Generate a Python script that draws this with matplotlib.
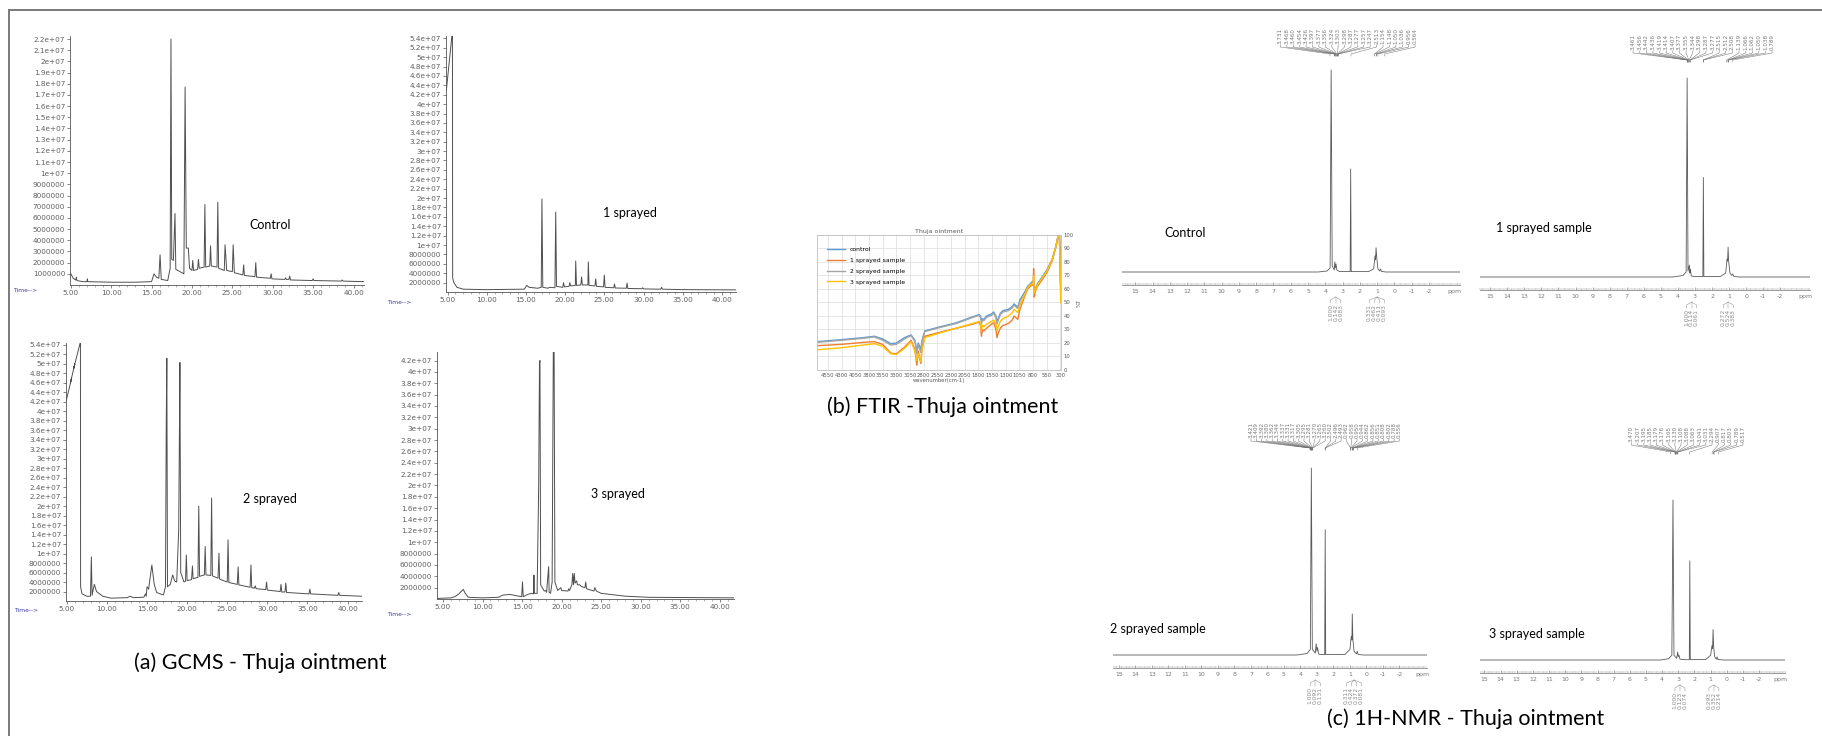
import numpy as np
import matplotlib
matplotlib.use("Agg")
import matplotlib.pyplot as plt
from matplotlib.lines import Line2D
from matplotlib.ticker import MultipleLocator, FuncFormatter
from matplotlib.transforms import blended_transform_factory

W, H = 1822, 736
CAPTION_FONT = ["Lato", "DejaVu Sans"]

# ---------------- GC-MS chromatograms: (retention time [min], abundance [x1e6]) ----------------
gc_control = [(5.0, 1.0), (5.3, 0.6), (5.6, 0.45), (5.7, 0.7), (5.75, 0.4), (6.5, 0.3), (7.0, 0.3),
              (7.05, 0.55), (7.1, 0.3), (10, 0.25), (13, 0.25), (15.0, 0.3), (15.3, 1.0), (15.6, 0.7),
              (15.9, 0.6), (16.05, 2.7), (16.2, 0.5), (17.0, 0.4), (17.3, 1.5), (17.4, 22.0), (17.5, 2.3),
              (17.7, 2.2), (17.9, 6.4), (18.0, 1.4), (18.5, 1.2), (19.0, 1.0), (19.15, 17.7), (19.3, 3.3),
              (19.55, 3.3), (19.7, 1.5), (20.0, 1.3), (20.1, 2.2), (20.2, 1.3), (20.7, 1.4), (20.8, 2.3),
              (20.9, 1.5), (21.5, 1.6), (21.6, 7.2), (21.7, 1.6), (22.2, 1.7), (22.3, 3.5), (22.4, 1.7),
              (23.1, 1.6), (23.2, 7.4), (23.3, 1.5), (24.0, 1.3), (24.1, 3.6), (24.3, 1.3), (25.0, 1.2),
              (25.1, 3.6), (25.25, 1.1), (26.3, 0.9), (26.4, 1.8), (26.5, 0.85), (27.8, 0.75), (27.9, 2.0),
              (28.0, 0.7), (29.7, 0.6), (29.8, 1.0), (29.9, 0.55), (31.5, 0.5), (31.6, 0.65), (31.7, 0.5),
              (32.0, 0.5), (32.1, 0.8), (32.2, 0.45), (34.9, 0.4), (35.0, 0.55), (35.1, 0.4), (38.5, 0.35),
              (38.6, 0.45), (38.7, 0.35), (41.3, 0.3)]
gc_spray1 = [(4.85, 43), (5.55, 54.5), (5.62, 54.5), (5.65, 3.0), (5.8, 2.0), (6.2, 1.0), (7.0, 0.6),
             (10, 0.5), (14.8, 0.6), (15.1, 1.4), (15.4, 1.0), (16.5, 0.8), (16.95, 1.0), (17.04, 19.8),
             (17.15, 1.0), (17.8, 0.8), (18.0, 1.0), (18.7, 0.9), (18.8, 17.0), (18.9, 1.2), (19.7, 1.0),
             (19.8, 2.0), (19.9, 1.1), (20.5, 1.2), (20.6, 2.0), (20.7, 1.3), (21.3, 1.4), (21.35, 6.6),
             (21.45, 1.4), (22.0, 1.5), (22.1, 3.2), (22.2, 1.5), (22.9, 1.5), (22.96, 6.4), (23.05, 1.4),
             (23.8, 1.3), (23.9, 2.8), (24.0, 1.2), (24.9, 1.1), (25.0, 3.6), (25.1, 1.0), (26.2, 0.9),
             (26.3, 1.7), (26.4, 0.85), (27.8, 0.8), (27.9, 1.9), (28.0, 0.75), (29.8, 0.7), (29.9, 0.9),
             (30.0, 0.65), (32.2, 0.6), (32.3, 1.0), (32.4, 0.6), (35.1, 0.5), (35.2, 0.6), (35.3, 0.5),
             (41.8, 0.45)]
gc_spray2 = [(4.9, 42), (5.6, 47), (5.45, 46), (6.0, 50), (5.85, 49), (6.68, 54.5), (6.7, 54.5),
             (6.72, 3.0), (6.9, 1.5), (7.5, 1.0), (7.95, 1.0), (8.06, 9.3), (8.15, 1.2), (8.3, 2.5),
             (8.44, 3.5), (8.7, 2.0), (9.5, 1.0), (10.5, 0.6), (12.5, 0.7), (12.9, 1.0), (13.3, 0.7),
             (14.6, 0.8), (14.8, 1.5), (14.9, 1.0), (15.0, 3.0), (15.2, 2.5), (15.6, 7.6), (15.9, 3.5),
             (16.2, 1.8), (16.8, 1.4), (17.05, 1.3), (17.3, 3.0), (17.4, 38), (17.47, 51.2), (17.55, 3.0),
             (17.9, 3.5), (18.2, 5.5), (18.45, 4.2), (18.7, 4.0), (18.95, 15), (19.05, 38), (19.1, 50.3),
             (19.2, 6.0), (19.6, 4.0), (19.8, 4.2), (19.9, 9.7), (20.0, 4.3), (20.55, 4.5), (20.66, 7.4),
             (20.75, 4.7), (21.35, 5.0), (21.45, 20.0), (21.55, 5.2), (22.15, 5.5), (22.25, 11.5),
             (22.35, 5.5), (22.95, 5.4), (23.05, 21.7), (23.15, 5.3), (23.85, 4.8), (23.97, 10.1),
             (24.05, 4.6), (25.0, 4.0), (25.1, 12.9), (25.2, 3.9), (26.25, 3.5), (26.36, 7.2), (26.45, 3.4),
             (27.85, 2.9), (27.96, 7.6), (28.05, 2.8), (28.4, 2.7), (28.5, 3.2), (28.6, 2.6), (29.8, 2.4),
             (29.9, 4.0), (30.0, 2.3), (31.6, 2.0), (31.7, 3.5), (31.8, 1.9), (32.2, 1.9), (32.3, 3.8),
             (32.4, 1.8), (35.2, 1.5), (35.3, 2.5), (35.4, 1.5), (38.8, 1.2), (38.9, 1.8), (39.0, 1.2),
             (41.8, 1.0)]
gc_spray3 = [(4.28, 0.1), (6.0, 0.2), (6.5, 0.4), (7.0, 0.9), (7.57, 1.7), (7.8, 1.0), (8.2, 0.3),
             (10, 0.2), (12, 0.3), (12.6, 0.7), (13.5, 0.8), (14.2, 0.6), (14.95, 0.4), (15.05, 3.0),
             (15.15, 0.4), (15.7, 0.8), (16.2, 1.0), (16.45, 0.9), (16.5, 4.2), (16.55, 1.0), (16.9, 1.0),
             (17.1, 20), (17.2, 41.5), (17.26, 42), (17.35, 2.5), (17.8, 1.4), (18.0, 1.5), (18.1, 1.2),
             (18.36, 5.7), (18.42, 1.2), (18.6, 1.0), (18.8, 3.0), (18.95, 44), (19.05, 44), (19.15, 3.0),
             (19.5, 1.5), (19.9, 2.0), (20.0, 1.5), (20.8, 1.4), (20.9, 1.8), (21.0, 1.5), (21.3, 2.5),
             (21.4, 4.5), (21.5, 2.5), (21.6, 4.5), (21.7, 2.8), (21.9, 3.2), (22.0, 2.5), (22.3, 2.5),
             (22.5, 2.2), (22.95, 2.0), (23.05, 3.0), (23.15, 1.8), (24.1, 1.4), (24.2, 2.0), (24.4, 1.4),
             (25.0, 1.0), (28.0, 0.5), (31.0, 0.3), (41.8, 0.2)]
gc_xticks = [5, 10, 15, 20, 25, 30, 35, 40]
gc_control_yticks = list(range(1, 23))
gc_spray_yticks = list(range(2, 55, 2))
gc_spray3_yticks = list(range(2, 43, 2))

# ---------------- FTIR (%T vs wavenumber) ----------------
ftir_wavenumber = [4750, 4300, 3900, 3700, 3550, 3400, 3300, 3150, 3030, 2960, 2925, 2900, 2870, 2853,
                   2830, 2780, 2500, 2200, 1900, 1790, 1760, 1745, 1725, 1700, 1650, 1560, 1520, 1480,
                   1460, 1440, 1400, 1350, 1250, 1180, 1150, 1120, 1080, 1040, 950, 900, 850, 800, 790,
                   780, 760, 740, 720, 700, 650, 550, 450, 380, 340, 320, 305, 295]
ftir_control = [21, 22.5, 24, 25, 23, 19.5, 20, 24, 26, 22, 14, 20, 17, 15, 22, 29, 32, 35, 39.5, 41,
                40, 36, 38, 37.5, 40, 41.5, 43, 40, 36, 38, 42, 44, 45, 47, 49, 48, 46.5, 52, 58, 62,
                64, 66, 65, 62, 60, 62, 64, 65, 68, 74, 82, 92, 100, 100, 80, 60]
ftir_spray1 = [18, 19, 20.5, 21, 19, 12.5, 12, 17, 22, 15, 3.5, 14, 8, 5, 16, 25, 28, 31, 34, 35.5,
               33, 25, 30, 29, 31, 34, 35, 30, 24, 27, 31, 33, 34.5, 37, 40, 39, 37.5, 45, 55, 60,
               62, 63, 75, 54, 58, 60, 62, 63, 66, 72, 81, 92, 100, 100, 78, 55]
ftir_spray2 = [20.5, 22, 23.5, 24.5, 22, 18.5, 19, 23, 25.5, 21, 12, 19, 15, 13, 21, 28.5, 31.5, 34.5,
               39, 40.5, 39, 34, 37, 36.5, 39, 40.5, 42, 39, 34, 36.5, 41, 43, 44, 46, 48, 47, 45.5, 51,
               57, 61.5, 63.5, 65, 66, 61, 59, 61, 63, 64.5, 67.5, 73.5, 82, 92, 100, 100, 79, 58]
ftir_spray3 = [15, 16.5, 18.5, 19.5, 17.5, 12, 11.5, 16, 21, 14, 7, 12, 9, 6, 15, 24, 27.5, 31, 34.5,
               36, 34, 29, 33, 32, 34, 36, 37, 34, 29, 32, 36, 38, 40, 42.5, 45, 44, 42.5, 48, 56, 61,
               63, 64, 70, 57, 59, 61, 63, 64, 67, 73, 82, 92, 100, 100, 75, 50]
ftir_names = ["control", "1 sprayed sample", "2 sprayed sample", "3 sprayed sample"]
ftir_colors = ["#5B9BD5", "#ED7D31", "#A5A5A5", "#FFC000"]
ftir_xticks = [4550, 4300, 4050, 3800, 3550, 3300, 3050, 2800, 2550, 2300, 2050, 1800, 1550, 1300,
               1050, 800, 550, 300]

# ---------------- 1H-NMR spectra: (shift [ppm], relative intensity) ----------------
nmr_control = [(15.8, 0), (4.4, 0), (3.9, 0.5), (3.72, 2), (3.66, 100), (3.6, 3), (3.48, 1), (3.45, 5),
               (3.42, 2), (3.38, 4), (3.33, 1), (3.2, 0.3), (2.56, 0.2), (2.53, 51), (2.50, 0.2),
               (1.5, 0.2), (1.2, 1.5), (1.12, 8), (1.09, 6), (1.06, 12), (1.02, 7), (0.95, 1.5),
               (0.85, 0.5), (0.8, 1.5), (0.75, 0.3), (0.5, 0), (-3.8, 0)]
nmr_spray1 = [(15.6, 0), (4.3, 0), (3.7, 0.8), (3.52, 2.5), (3.46, 100), (3.41, 3), (3.33, 6), (3.3, 2),
              (3.27, 4), (3.22, 0.5), (3.0, 0.2), (2.54, 0.2), (2.51, 50), (2.48, 0.2), (1.5, 0.3),
              (1.2, 2), (1.12, 9), (1.09, 8), (1.06, 15), (1.03, 8), (0.95, 2), (0.85, 0.8), (0.79, 1.5),
              (0.72, 0.3), (0.4, 0), (-3.74, 0)]
nmr_spray2 = [(15.36, 0), (4.2, 0), (3.6, 0.8), (3.4, 3), (3.34, 100), (3.28, 3), (3.1, 1), (3.05, 6),
              (3.0, 2), (2.96, 4), (2.9, 0.5), (2.7, 0.2), (2.53, 0.2), (2.5, 67), (2.47, 0.2), (1.3, 0.3),
              (1.0, 3), (0.92, 10), (0.88, 8), (0.86, 22), (0.82, 8), (0.75, 2), (0.6, 0.6), (0.56, 2),
              (0.5, 0.3), (0.2, 0), (-3.67, 0)]
nmr_spray3 = [(15.27, 0), (4.1, 0), (3.6, 0.8), (3.4, 3), (3.33, 100), (3.27, 3), (3.1, 1), (3.04, 5),
              (3.0, 2), (2.96, 3), (2.9, 0.5), (2.6, 0.2), (2.32, 0.2), (2.29, 62), (2.26, 0.2), (1.3, 0.3),
              (1.0, 3), (0.92, 9), (0.88, 7), (0.85, 19), (0.81, 8), (0.75, 2), (0.65, 0.5), (0.6, 2),
              (0.55, 0.3), (0.2, 0), (-3.6, 0)]
nmr_ticks = list(range(15, -3, -1))

shifts_control = ["3.731", "3.468", "3.460", "3.454", "3.426", "3.397", "3.377", "3.356", "3.324",
                  "3.303", "3.298", "3.287", "3.277", "3.257", "3.247", "2.513", "1.154", "1.148",
                  "1.050", "1.036", "0.956", "0.564"]
shifts_spray1 = ["3.461", "3.456", "3.442", "3.436", "3.419", "3.414", "3.407", "3.377", "3.355",
                 "3.344", "3.298", "3.287", "3.277", "2.515", "2.512", "2.508", "1.139", "1.066",
                 "1.062", "1.050", "1.038", "0.789"]
shifts_spray2 = ["3.421", "3.409", "3.392", "3.380", "3.362", "3.344", "3.337", "3.331", "3.317",
                 "3.305", "3.295", "3.281", "3.270", "3.265", "3.260", "2.502", "2.496", "2.493",
                 "0.962", "0.958", "0.950", "0.944", "0.862", "0.856", "0.851", "0.808", "0.802",
                 "0.788", "0.556"]
shifts_spray3 = ["3.470", "3.207", "3.195", "3.185", "3.179", "3.176", "3.165", "3.130", "3.108",
                 "3.088", "3.063", "3.041", "3.031", "2.294", "0.907", "0.817", "0.803", "0.789",
                 "0.517"]

integrals_control = [(3.4, ["1.000", "0.142", "0.083"]), (1.0, ["0.331", "0.462", "0.411", "0.093"])]
integrals_spray1 = [(3.2, ["1.000", "0.114", "0.061"]), (1.05, ["0.272", "0.524", "0.383"])]
integrals_spray2 = [(3.1, ["1.000", "0.092", "0.131"]), (0.75, ["0.311", "0.424", "0.372", "0.081"])]
integrals_spray3 = [(2.9, ["1.000", "0.123", "0.074"]), (0.8, ["0.293", "0.352", "0.214"])]


def px_axes(fig, left, top, right, bottom):
    return fig.add_axes([left / W, 1 - bottom / H, (right - left) / W, (bottom - top) / H])


def fig_text(fig, x, y, s, **kw):
    fig.text(x / W, 1 - y / H, s, **kw)


def gc_label(v, pos):
    val = v * 1e6
    return f"{int(round(val))}" if val < 1e7 else f"{val:g}"


def draw_gc(fig, box, trace, xlim, ymax, yticks, name, name_xy, time_xy):
    ax = px_axes(fig, *box)
    t, a = np.array(trace).T
    ax.plot(t, a, color="#4f4f4f", lw=0.7)
    ax.set_xlim(*xlim)
    ax.set_ylim(0, ymax)
    ax.patch.set_alpha(0)
    for s in ("top", "right"):
        ax.spines[s].set_visible(False)
    for s in ("left", "bottom"):
        ax.spines[s].set_color("#555555")
        ax.spines[s].set_linewidth(0.6)
    ax.set_xticks(gc_xticks)
    ax.xaxis.set_major_formatter(FuncFormatter(lambda v, p: f"{v:.2f}"))
    ax.xaxis.set_minor_locator(MultipleLocator(1))
    ax.set_yticks(yticks)
    ax.yaxis.set_major_formatter(FuncFormatter(gc_label))
    ax.tick_params(axis="both", labelsize=5.2, labelcolor="#606060", color="#555555",
                   width=0.5, length=2, pad=1.5)
    ax.tick_params(axis="x", which="minor", length=1.2, width=0.4, color="#777777")
    fig_text(fig, *name_xy, name, fontsize=9, family=CAPTION_FONT, ha="center", va="center")
    fig_text(fig, *time_xy, "Time-->", fontsize=4.3, color="#3b3ba8", ha="left", va="center")


def draw_nmr(fig, x0, x1, top, base, axis_y, peak_top, xlim, spectrum, shifts, block,
             text_bottom, integrals, name, name_xy):
    unit = (base - peak_top) / 100.0
    ax = px_axes(fig, x0, top, x1, axis_y)
    ax.set_xlim(*xlim)
    ax.set_ylim(-(axis_y - base) / unit, (base - top) / unit)
    ax.patch.set_alpha(0)

    def yd(ypx):
        return (base - ypx) / unit

    p, i = np.array(spectrum).T
    ax.plot(p, i, color="#5a5a5a", lw=0.6)
    for s in ("left", "top", "right"):
        ax.spines[s].set_visible(False)
    ax.spines["bottom"].set_color("#8a8a8a")
    ax.spines["bottom"].set_linewidth(0.6)
    ax.set_yticks([])
    ax.set_xticks(nmr_ticks)
    ax.xaxis.set_major_formatter(FuncFormatter(lambda v, pos: f"{int(v)}"))
    ax.xaxis.set_minor_locator(MultipleLocator(0.1))
    ax.tick_params(axis="x", labelsize=4.5, labelcolor="#7a7a7a", color="#8a8a8a",
                   direction="in", length=2.5, width=0.5, pad=3)
    ax.tick_params(axis="x", which="minor", direction="in", length=1.3, width=0.35, color="#999999")
    tr = blended_transform_factory(ax.transAxes, ax.transData)
    ax.text(0.985, yd(axis_y + 4), "ppm", transform=tr, fontsize=4.5, color="#7a7a7a",
            ha="center", va="top", clip_on=False)

    # peak picking labels fanned to their shifts
    xs = np.linspace(block[0], block[1], len(shifts))
    for xi, s in zip(xs, shifts):
        ax.text(xi, yd(text_bottom), s, rotation=90, ha="center", va="bottom",
                fontsize=4.1, color="#7d7d7d")
        v = float(s)
        ax.plot([xi, xi, v, v], [yd(text_bottom + 1), yd(text_bottom + 3),
                                 yd(text_bottom + 10), yd(text_bottom + 12)],
                color="#707070", lw=0.35)

    # integrals under the axis
    ppm_px = (x1 - x0) / (xlim[0] - xlim[1])
    for centre, vals in integrals:
        n = len(vals)
        offs = (np.arange(n) - (n - 1) / 2) * 5.0 / ppm_px
        for off, txt in zip(offs, vals):
            xi = centre - off
            ax.plot([centre, xi, xi], [yd(axis_y + 12), yd(axis_y + 15), yd(axis_y + 18)],
                    color="#8c8c8c", lw=0.35, clip_on=False)
            ax.text(xi, yd(axis_y + 19), txt, rotation=90, ha="center", va="top",
                    fontsize=4.3, color="#8c8c8c", clip_on=False)
    fig_text(fig, *name_xy, name, fontsize=9, family=CAPTION_FONT, ha="center", va="center")


fig = plt.figure(figsize=(W / 100, H / 100), dpi=100)

# frame
fig.add_artist(Line2D([9 / W, 1], [1 - 10 / H, 1 - 10 / H], color="#7a7a7a", lw=1.4))
fig.add_artist(Line2D([9 / W, 9 / W], [0, 1 - 10 / H], color="#7a7a7a", lw=1.4))

# (a) GC-MS
draw_gc(fig, (70, 36, 364, 285), gc_control, (4.9, 41.3), 22.27, gc_control_yticks,
        "Control", (270, 225), (13, 291))
draw_gc(fig, (446, 36, 736, 292), gc_spray1, (4.8, 41.8), 54.5, gc_spray_yticks,
        "1 sprayed", (630, 213), (387, 303))
draw_gc(fig, (66, 343, 362, 601), gc_spray2, (4.9, 41.8), 54.4, gc_spray_yticks,
        "2 sprayed", (270, 499), (14, 611))
draw_gc(fig, (437, 352, 734, 599), gc_spray3, (4.24, 41.8), 43.5, gc_spray3_yticks,
        "3 sprayed", (618, 494), (387, 614))
fig_text(fig, 260, 663, "(a) GCMS - Thuja ointment", fontsize=15.5, family=CAPTION_FONT,
         ha="center", va="center")

# (b) FTIR
ax = px_axes(fig, 817, 235, 1061, 370)
for vals, name, col in zip([ftir_control, ftir_spray1, ftir_spray2, ftir_spray3], ftir_names, ftir_colors):
    ax.plot(ftir_wavenumber, vals, color=col, lw=1.0, label=name)
ax.set_xlim(4750, 290)
ax.set_ylim(0, 100)
ax.set_xticks(ftir_xticks)
ax.set_xticklabels([str(v) for v in ftir_xticks])
ax.set_yticks(range(0, 101, 10))
ax.yaxis.tick_right()
ax.yaxis.set_label_position("right")
ax.grid(color="#dcdcdc", lw=0.5)
ax.set_axisbelow(True)
for s in ax.spines.values():
    s.set_color("#bfbfbf")
    s.set_linewidth(0.6)
ax.tick_params(labelsize=3.8, labelcolor="#595959", length=0, pad=2)
ax.set_title("Thuja ointment", fontsize=4.5, color="#595959", pad=1.5)
ax.set_xlabel("wavenumber(cm-1)", fontsize=3.8, color="#595959", labelpad=0.5)
ax.set_ylabel("%T", fontsize=3.8, color="#595959", labelpad=2)
ax.legend(loc="upper left", bbox_to_anchor=(0.03, 0.93), frameon=False, fontsize=4.4,
          handlelength=3.0, labelspacing=0.9, borderaxespad=0)
fig_text(fig, 943, 407, "(b) FTIR -Thuja ointment", fontsize=15.5, family=CAPTION_FONT,
         ha="center", va="center")

# (c) 1H-NMR
draw_nmr(fig, 1122, 1460, 18, 272, 285, 70, (15.77, -3.8), nmr_control, shifts_control,
         (6.6, -1.2), 44, integrals_control, "Control", (1185, 233))
draw_nmr(fig, 1480, 1810, 22, 277, 290, 78, (15.6, -3.74), nmr_spray1, shifts_spray1,
         (6.63, -1.52), 50, integrals_spray1, "1 sprayed sample", (1544, 228))
draw_nmr(fig, 1113, 1427, 400, 655, 668, 468, (15.36, -3.67), nmr_spray2, shifts_spray2,
         (7.0, -2.0), 438, integrals_spray2, "2 sprayed sample", (1158, 629))
draw_nmr(fig, 1480, 1785, 400, 660, 673, 500, (15.27, -3.6), nmr_spray3, shifts_spray3,
         (5.9, -1.0), 442, integrals_spray3, "3 sprayed sample", (1537, 634))
fig_text(fig, 1466, 719, "(c) 1H-NMR - Thuja ointment", fontsize=15.5, family=CAPTION_FONT,
         ha="center", va="center")

fig.savefig("out.png", dpi=100)
